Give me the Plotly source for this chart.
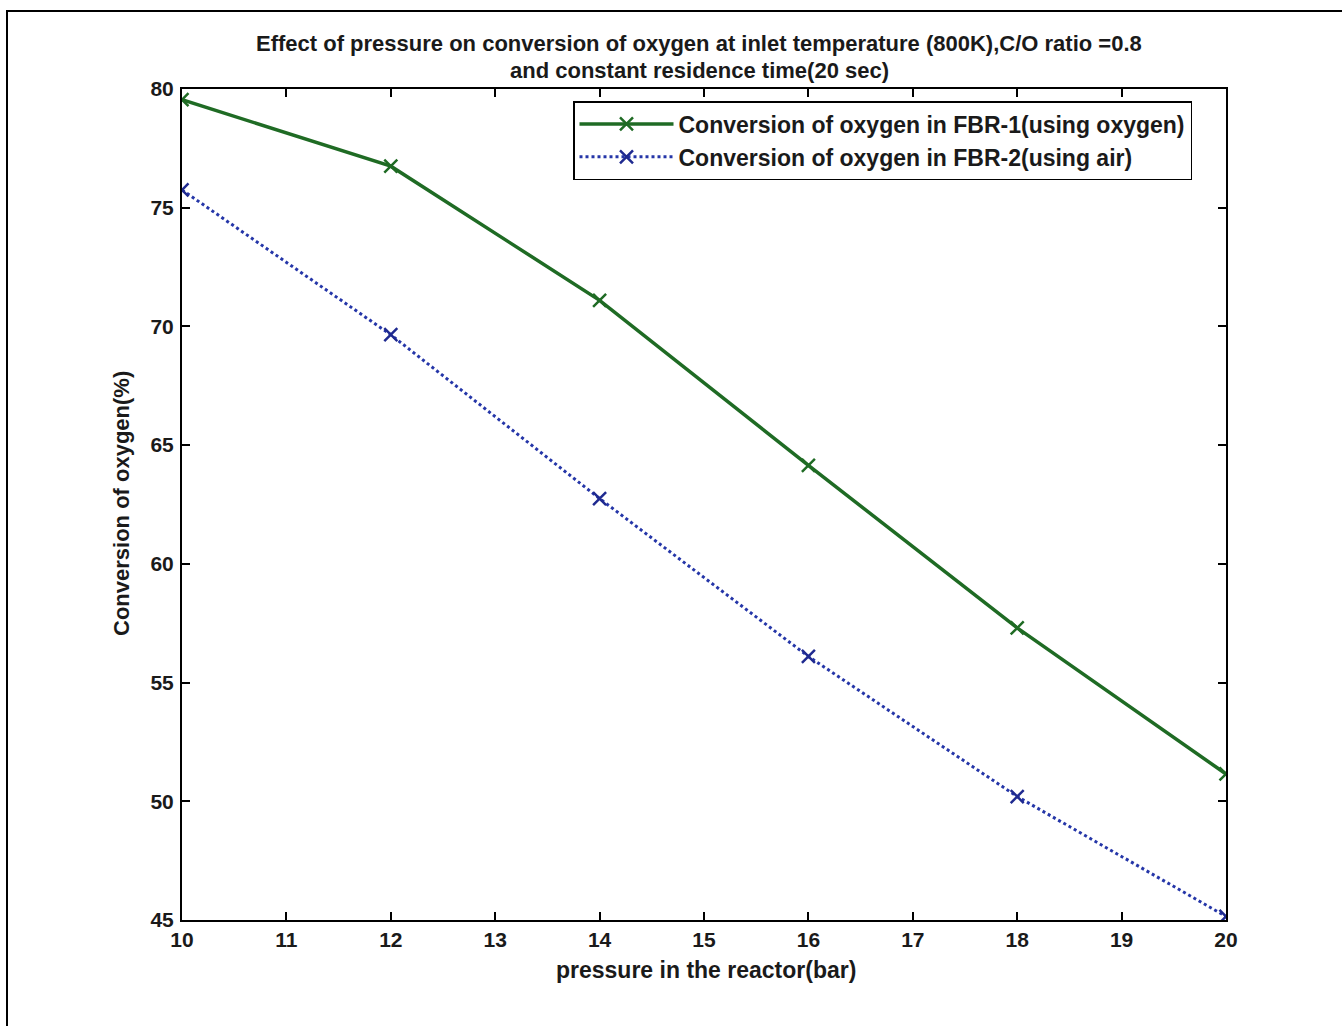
import plotly.graph_objects as go

pressure = [10, 12, 14, 16, 18, 20]
fbr1_oxygen = [79.55, 76.75, 71.1, 64.15, 57.3, 51.15]
fbr2_air = [75.75, 69.65, 62.75, 56.1, 50.2, 45.15]

x_ticks = list(range(10, 21))
y_ticks = [45, 50, 55, 60, 65, 70, 75, 80]

name1 = "Conversion of oxygen in FBR-1(using oxygen)"
name2 = "Conversion of oxygen in FBR-2(using air)"
title_line1 = "Effect of pressure on conversion of oxygen at inlet temperature (800K),C/O ratio =0.8"
title_line2 = "and constant residence time(20 sec)"
xlabel = "pressure in the reactor(bar)"
ylabel = "Conversion of oxygen(%)"

FONT = "Liberation Sans, Arial, sans-serif"
TXT = "#1a1a1a"

fig = go.Figure()
fig.add_trace(go.Scatter(
    x=pressure, y=fbr1_oxygen, name=name1, mode="lines+markers",
    line=dict(color="#1f6b24", width=3.5),
    marker=dict(symbol="x-thin", size=13, line=dict(color="#1f6b24", width=2.5)),
))
fig.add_trace(go.Scatter(
    x=pressure, y=fbr2_air, name=name2, mode="lines+markers",
    line=dict(color="#2536a8", width=3, dash="dot"),
    marker=dict(symbol="x-thin", size=13, line=dict(color="#1f2a90", width=2.5)),
))

W, H = 1342, 1026
L, R, T, B = 182, 116, 89, 106
pw, ph = W - L - R, H - T - B

def px(xp):
    return (xp - L) / pw

def py(yp):
    return (H - B - yp) / ph

axis_common = dict(
    showline=True, linecolor="black", linewidth=2, mirror="ticks",
    ticks="inside", ticklen=8, tickwidth=1.5, tickcolor="black",
    showgrid=False, zeroline=False,
    tickfont=dict(family=FONT, size=21, color=TXT, weight="bold"),
)

fig.update_xaxes(range=[10, 20], tickvals=x_ticks, **axis_common)
fig.update_yaxes(range=[45, 80], tickvals=y_ticks, ticklabelstandoff=2, **axis_common)

fig.update_layout(
    width=W, height=H,
    margin=dict(l=L, r=R, t=T, b=B),
    paper_bgcolor="white", plot_bgcolor="white",
    showlegend=True,
    legend=dict(
        x=px(573), y=py(101), xanchor="left", yanchor="top",
        bordercolor="black", borderwidth=1.5, bgcolor="white",
        font=dict(family=FONT, size=23, color=TXT, weight="bold"),
        itemwidth=94, tracegroupgap=0,
    ),
    annotations=[
        dict(text=title_line1, x=px(699), y=py(43), xref="paper", yref="paper",
             xanchor="center", yanchor="middle", showarrow=False,
             font=dict(family=FONT, size=22, color=TXT, weight="bold")),
        dict(text=title_line2, x=px(699), y=py(70), xref="paper", yref="paper",
             xanchor="center", yanchor="middle", showarrow=False,
             font=dict(family=FONT, size=22, color=TXT, weight="bold")),
        dict(text=xlabel, x=px(706), y=py(970), xref="paper", yref="paper",
             xanchor="center", yanchor="middle", showarrow=False,
             font=dict(family=FONT, size=23, color=TXT, weight="bold")),
        dict(text=ylabel, x=px(122), y=py(504), xref="paper", yref="paper",
             xanchor="center", yanchor="middle", showarrow=False, textangle=-90,
             font=dict(family=FONT, size=22, color=TXT, weight="bold")),
    ],
    shapes=[
        dict(type="rect", xref="paper", yref="paper",
             x0=px(7), x1=px(1350), y0=py(1040), y1=py(11),
             line=dict(color="black", width=2)),
    ],
)

fig.write_html("out.html")
